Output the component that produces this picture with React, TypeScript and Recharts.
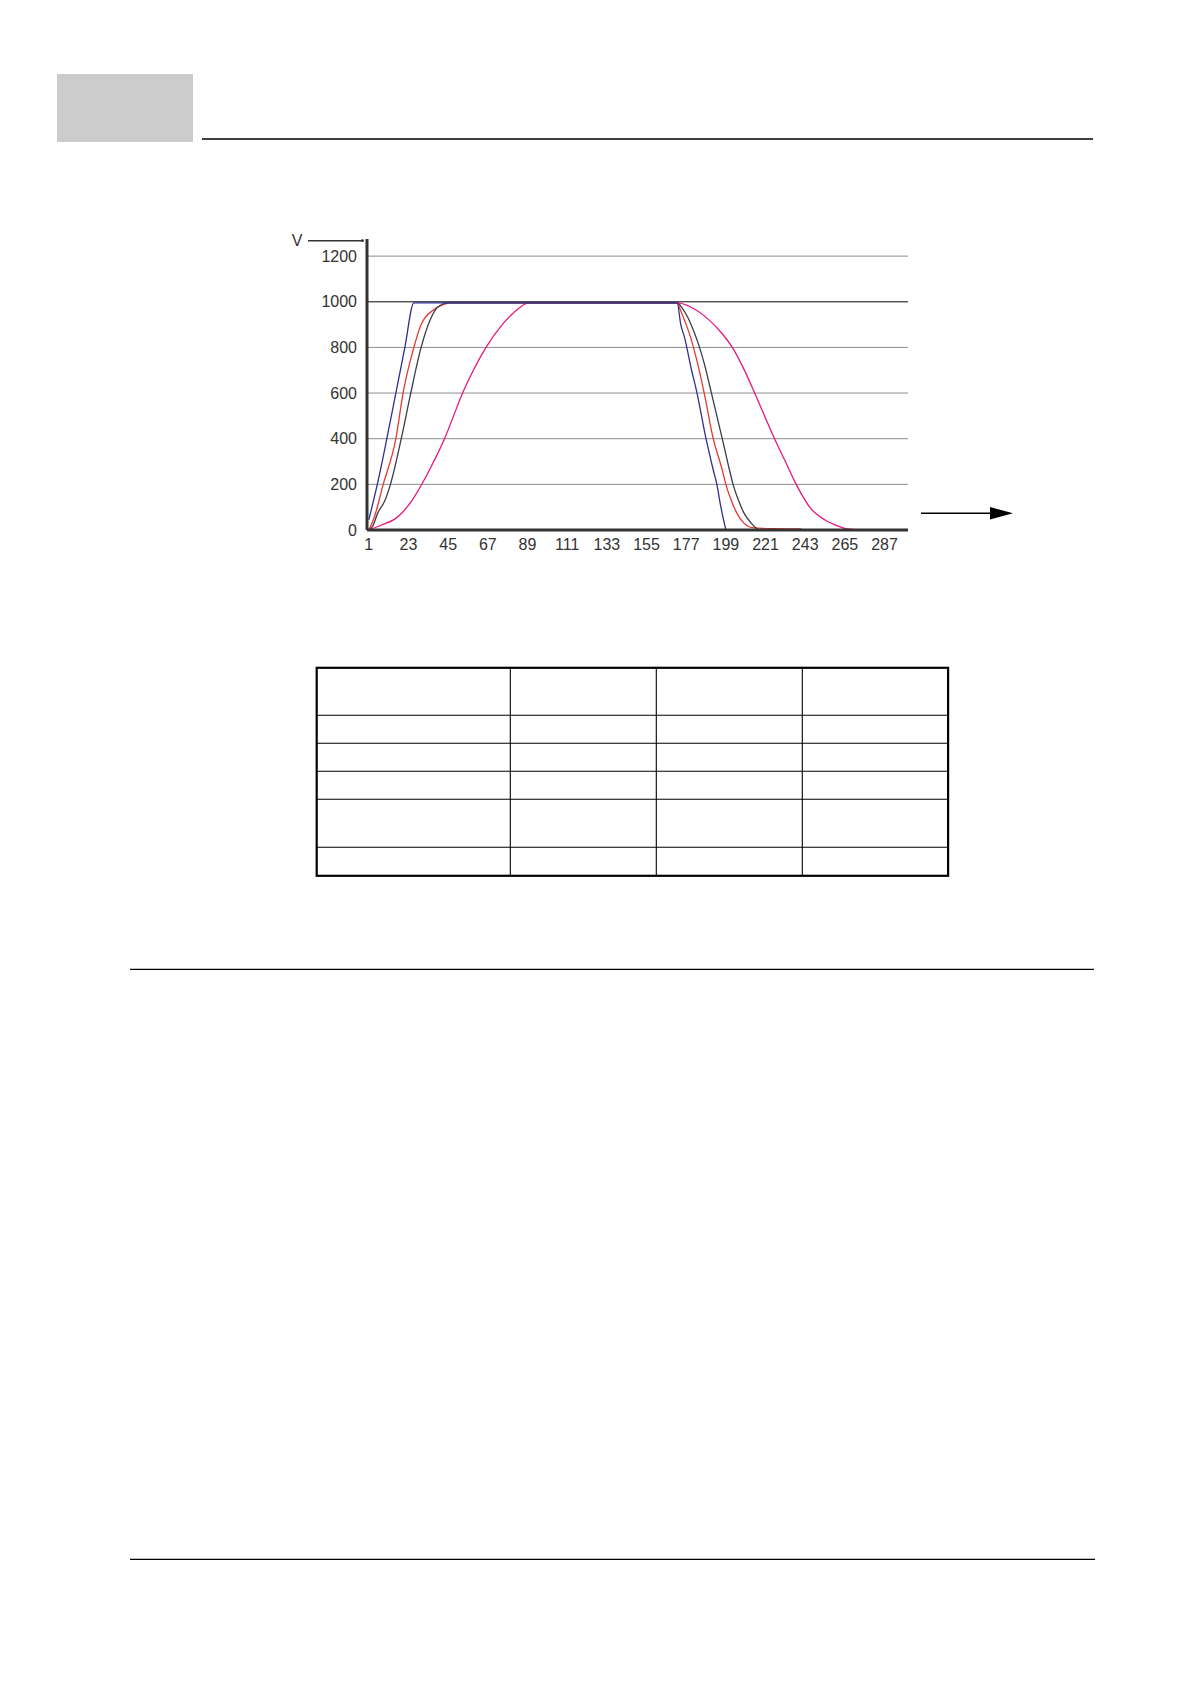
import React from 'react';
import { LineChart, Line, XAxis, YAxis, CartesianGrid, ReferenceLine } from 'recharts';

// axis ticks
const ticksX = [1, 23, 45, 67, 89, 111, 133, 155, 177, 199, 221, 243, 265, 287];
const ticksY = [0, 200, 400, 600, 800, 1000, 1200];

// sample index / value pairs
const blueIdx = [1, 6, 11, 16, 21, 26, 172, 174, 176, 180, 183, 188, 192, 194, 196, 199];
const blueVal = [45, 210, 400, 600, 800, 995, 995, 900, 846, 700, 600, 400, 263, 200, 110, 0];

const redIdx = [1, 4, 9, 16, 20, 26, 30, 37, 43, 47, 172, 174, 177, 180, 183, 187, 192, 197, 199, 202, 205, 209, 214, 224, 241];
const redVal = [0, 55, 200, 400, 600, 800, 900, 965, 990, 995, 995, 960, 900, 830, 740, 600, 400, 263, 200, 130, 75, 30, 10, 6, 5];

const darkIdx = [1, 3, 6, 10, 13, 19, 24, 30, 35, 39, 45, 172, 175, 178, 181, 184, 187, 191, 197, 201, 203, 206, 209, 213, 217];
const darkVal = [0, 15, 75, 130, 200, 400, 590, 800, 920, 975, 995, 995, 970, 930, 875, 810, 730, 600, 400, 263, 200, 130, 75, 30, 0];

const pinkIdx = [1, 8, 16, 20, 25, 30, 37, 43, 48, 53, 59, 66, 75, 81, 90, 172, 180, 189, 197, 203, 209, 215, 221, 226, 232, 238, 246, 254, 261, 266, 270];
const pinkVal = [0, 22, 51, 80, 130, 195, 300, 400, 500, 600, 700, 800, 900, 950, 995, 995, 975, 925, 860, 795, 705, 600, 490, 400, 300, 200, 95, 44, 18, 5, 3];

const toPoints = (idx: number[], val: number[]) => idx.map((x, i) => ({ x, v: val[i] }));

const series = [
  { name: 'pink', data: toPoints(pinkIdx, pinkVal), color: '#e8177f' },
  { name: 'red', data: toPoints(redIdx, redVal), color: '#e8392f' },
  { name: 'dark', data: toPoints(darkIdx, darkVal), color: '#3d3d4a' },
  { name: 'blue', data: toPoints(blueIdx, blueVal), color: '#2f2f91' },
];

const tableCols = [510.3, 656.3, 802.3];
const tableRows = [715.3, 743.3, 771.3, 799.3, 847.3];

const Page = () => (
  <svg width={1190} height={1684} style={{ position: 'absolute', left: 0, top: 0 }}>
    <rect x={57} y={74} width={136} height={68} fill="#cccccc" />
    <line x1={202} x2={1093} y1={139} y2={139} stroke="#000" strokeWidth={1.6} />

    {/* V label with arrow line */}
    <text x={297} y={246} fontSize={16} fill="#333" textAnchor="middle" fontFamily="Liberation Sans, Arial, sans-serif">V</text>
    <line x1={308} x2={362} y1={240.7} y2={240.7} stroke="#333" strokeWidth={1.5} />
    <circle cx={362.5} cy={240.7} r={1.4} fill="#333" />

    {/* right arrow */}
    <line x1={921} x2={992} y1={513.3} y2={513.3} stroke="#000" strokeWidth={1.5} />
    <polygon points="990,507 1013,513.3 990,519.5" fill="#000" />

    {/* table */}
    <rect x={316.7} y={667.8} width={631.4} height={208} fill="none" stroke="#000" strokeWidth={2.2} />
    {tableCols.map((x) => (
      <line key={`c${x}`} x1={x} x2={x} y1={667.8} y2={875.8} stroke="#000" strokeWidth={1.1} />
    ))}
    {tableRows.map((y) => (
      <line key={`r${y}`} x1={316.7} x2={948.1} y1={y} y2={y} stroke="#000" strokeWidth={1.1} />
    ))}

    <line x1={130} x2={1094} y1={969.3} y2={969.3} stroke="#000" strokeWidth={1.3} />
    <line x1={130} x2={1095} y1={1559.3} y2={1559.3} stroke="#000" strokeWidth={1.3} />
  </svg>
);

const tickStyle = { fontSize: 16, fill: '#333', fontFamily: 'Liberation Sans, Arial, sans-serif' };

export default function App() {
  return (
    <div style={{ position: 'absolute', left: 0, top: 0, width: 1190, height: 1684, background: '#fff', fontFamily: 'Liberation Sans, Arial, sans-serif' }}>
      <Page />
      <div style={{ position: 'absolute', left: 300, top: 220 }}>
        <LineChart width={640} height={350} margin={{ top: 19, right: 32, left: 7, bottom: 10 }}>
          <CartesianGrid vertical={false} horizontalValues={ticksY.slice(1)} stroke="#8c8c8c" strokeWidth={1} />
          <XAxis
            type="number"
            dataKey="x"
            domain={[0, 300]}
            ticks={ticksX}
            interval={0}
            allowDataOverflow
            height={30}
            tickLine={false}
            tickMargin={3}
            tick={tickStyle}
            axisLine={{ stroke: '#333', strokeWidth: 3 }}
          />
          <YAxis
            type="number"
            domain={[0, 1275]}
            ticks={ticksY}
            interval={0}
            allowDataOverflow
            width={60}
            tickLine={false}
            tickMargin={4}
            tick={tickStyle}
            axisLine={{ stroke: '#333', strokeWidth: 3 }}
          />
          <ReferenceLine y={1000} stroke="#333" strokeWidth={1} />
          {series.map((s) => (
            <Line
              key={s.name}
              data={s.data}
              dataKey="v"
              type="monotone"
              stroke={s.color}
              strokeWidth={1.3}
              dot={false}
              activeDot={false}
              isAnimationActive={false}
            />
          ))}
        </LineChart>
      </div>
    </div>
  );
}
